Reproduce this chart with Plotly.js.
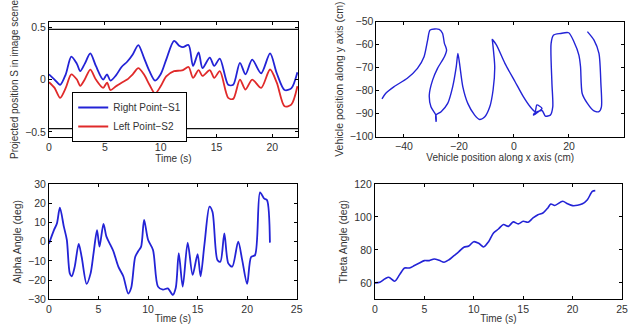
<!DOCTYPE html>
<html>
<head>
<meta charset="utf-8">
<script src="https://cdn.plot.ly/plotly-3.0.1.min.js"></script>
<style>html,body{margin:0;padding:0;background:#fff;}#chart{width:628px;height:324px;}</style>
</head>
<body>
<div id="chart"></div>
<script>
// ---- Top-left: projected position S ----
const timeS = [0, 0.5, 1.0, 1.5, 2.0, 2.5, 2.8, 3.2, 3.7, 4.2, 4.85, 5.2, 5.5, 6.0, 6.5, 7.0, 7.5, 8.0, 8.5, 9.0, 9.5, 10.0, 10.5, 11.2, 11.7, 12.0, 12.5, 12.9, 13.4, 13.75, 14.4, 14.8, 15.3, 16.05, 16.5, 17.1, 17.6, 18.2, 19.0, 19.8, 20.4, 21.1, 21.7, 22.25];
const rightS1 = [0.05, 0.0, -0.05, 0.05, 0.22, 0.15, 0.08, 0.15, 0.25, 0.13, 0.0, 0.05, -0.01, 0.04, 0.12, 0.17, 0.24, 0.33, 0.21, 0.08, -0.01, 0.05, 0.19, 0.37, 0.32, 0.31, 0.33, 0.13, 0.26, 0.11, 0.21, 0.13, 0.20, -0.05, -0.05, 0.16, 0.05, 0.19, 0.06, 0.25, 0.06, -0.10, -0.085, 0.07];
const leftS2 = [-0.025, -0.08, -0.175, -0.08, 0.05, 0.0, -0.06, 0.0, 0.095, 0.0, -0.08, -0.03, -0.10, -0.065, -0.03, 0.0, 0.05, 0.11, 0.05, -0.05, -0.135, -0.065, 0.03, 0.08, 0.085, 0.09, 0.12, 0.016, 0.09, 0.035, 0.09, 0.016, 0.08, -0.175, -0.185, 0.0, -0.096, 0.0, -0.08, 0.096, -0.03, -0.256, -0.24, -0.064];
const boundT = [0, 22.3];
const upperBound = [0.48, 0.48];
const lowerBound = [-0.47, -0.47];

// ---- Top-right: vehicle trajectory ----
const vehX = [-48, -46.7, -43.7, -38.8, -35.1, -32.7, -31.4, -30.5, -27.2, -26, -25.3, -24.5, -25.3, -27.8, -29.6, -30.8, -30.2, -28.4, -28.3, -28.4, -26.5, -24.1, -22.3, -21, -20.4, -19.8, -18.6, -16.8, -14.3, -12.5, -10.6, -8.8, -7.6, -7, -7.8, -7.9, -6.4, -3.3, 0.4, 3.4, 5.9, 7.7, 8.3, 10.2, 8.9, 7.1, 7.4, 10.2, 11.4, 13.2, 14.1, 13.8, 13.5, 14.4, 16.9, 19.9, 21.8, 23.6, 24.2, 24.8, 26.7, 29.1, 30.9, 31.8, 31.6, 30.9, 29.1, 26.7];
const vehY = [-83.5, -81.2, -78.3, -74.6, -70.3, -65.2, -58, -53.6, -53.3, -55, -59.4, -62.3, -65.2, -70.3, -75.4, -81.9, -87, -90.6, -93.5, -90.6, -89.1, -85.5, -78.3, -69.6, -63.8, -68.1, -78.3, -85.5, -90.6, -92.5, -91.3, -87, -79.7, -69.6, -58.7, -57.7, -60.1, -68.1, -76.1, -82.6, -87, -89.1, -86.2, -87.7, -89.1, -90.6, -89.8, -88.6, -91, -90.6, -87, -76.8, -59.4, -55.8, -55.1, -54.8, -58.7, -64.5, -69.6, -81.2, -85.5, -88.8, -89.1, -87, -76.8, -63.8, -58, -54.3];

// ---- Bottom-left: alpha angle ----
const timeA = [0, 0.5, 0.8, 1.1, 1.5, 1.8, 2.1, 2.3, 2.6, 3.0, 3.3, 3.8, 4.2, 4.5, 4.85, 5.1, 5.5, 5.8, 6.2, 6.5, 7.0, 7.5, 8.0, 8.3, 8.7, 9.0, 9.3, 9.6, 10.0, 10.5, 11.0, 11.5, 12.0, 12.5, 12.8, 13.1, 13.5, 14.0, 14.5, 15.0, 15.3, 15.7, 16.2, 16.5, 17.0, 17.3, 17.7, 18.1, 18.5, 19.1, 19.5, 20.0, 20.4, 20.8, 21.3, 21.7, 22.0, 22.3];
const alphaDeg = [-1, 6, 9.5, 17.7, 7.8, 1, -16.5, -18, -13, -1.2, -8, -22, -16.5, -6, 6, -2.6, 9.2, 2.6, -1.7, -5, -13, -18, -27, -24, -8, -5, -2.6, 11.3, 1, -4.3, -23.4, -25, -24.3, -27.7, -24, -6, -23.4, -0.5, -17.3, -6.5, -18, -1, 18.2, 15.6, -9.5, -10.4, 4.3, -11.3, -13, 0, -9.5, -22, -8, -7, 25.7, 22.5, 21.7, -0.5];

// ---- Bottom-right: theta angle ----
const timeT = [0, 0.5, 1.0, 1.4, 2.0, 2.5, 3.0, 3.5, 4.0, 4.5, 5.0, 5.5, 6.0, 6.5, 7.0, 7.5, 8.0, 8.5, 9.0, 9.5, 10.0, 10.5, 11.0, 11.5, 12.0, 12.5, 13.0, 13.5, 14.0, 14.5, 15.0, 15.5, 16.0, 16.5, 17.0, 17.5, 17.8, 18.2, 19.0, 19.5, 20.0, 20.5, 21.0, 21.5, 22.0, 22.3];
const thetaDeg = [60, 60.4, 62.4, 63.4, 61, 65, 69, 69, 70.5, 72, 73.5, 73.5, 74.5, 73.7, 72.5, 74, 76.5, 79, 81.6, 82.4, 85, 84, 81.8, 85, 90.3, 92.7, 95.4, 94.3, 97, 95.8, 97.4, 96.8, 99.4, 101.4, 102.4, 105.5, 107.9, 107, 109.5, 108, 106.9, 107.1, 108, 110.5, 115.5, 116];

const BLUE = '#2323d6';
const RED = '#e02a2a';
const FONT = 'Liberation Sans, Arial, sans-serif';

const traces = [
  {x: timeS, y: rightS1, name: 'Right Point\u2212S1', mode: 'lines', line: {color: BLUE, width: 1.8, shape: 'spline', smoothing: 0.8}, xaxis: 'x', yaxis: 'y'},
  {x: timeS, y: leftS2, name: 'Left Point\u2212S2', mode: 'lines', line: {color: RED, width: 1.8, shape: 'spline', smoothing: 0.8}, xaxis: 'x', yaxis: 'y'},
  {x: boundT, y: upperBound, mode: 'lines', showlegend: false, line: {color: '#111', width: 1.2}, xaxis: 'x', yaxis: 'y', hoverinfo: 'skip'},
  {x: boundT, y: lowerBound, mode: 'lines', showlegend: false, line: {color: '#111', width: 1.2}, xaxis: 'x', yaxis: 'y', hoverinfo: 'skip'},
  {x: vehX, y: vehY, mode: 'lines', showlegend: false, line: {color: BLUE, width: 1.4, shape: 'spline', smoothing: 0.7}, xaxis: 'x2', yaxis: 'y2'},
  {x: timeA, y: alphaDeg, mode: 'lines', showlegend: false, line: {color: BLUE, width: 1.8, shape: 'spline', smoothing: 0.8}, xaxis: 'x3', yaxis: 'y3'},
  {x: timeT, y: thetaDeg, mode: 'lines', showlegend: false, line: {color: BLUE, width: 1.6, shape: 'spline', smoothing: 0.8}, xaxis: 'x4', yaxis: 'y4'}
];

function ax(extra) {
  return Object.assign({
    showline: true, linecolor: '#000', linewidth: 1, mirror: 'ticks',
    ticks: 'inside', ticklen: 3, tickcolor: '#000', tickwidth: 1,
    showgrid: false, zeroline: false, automargin: false,
    tickfont: {family: FONT, size: 10.5, color: '#333'}
  }, extra);
}
function ttl(text, standoff, size) {
  return {text: text, font: {family: FONT, size: size || 10, color: '#333'}, standoff: standoff};
}

const layout = {
  width: 628, height: 324,
  margin: {l: 0, r: 0, t: 0, b: 0},
  paper_bgcolor: '#fff', plot_bgcolor: '#fff',
  showlegend: true,
  legend: {x: 0.115, y: 0.716, xanchor: 'left', yanchor: 'top', bgcolor: '#fff', bordercolor: '#000', borderwidth: 1,
           font: {family: FONT, size: 10, color: '#333'}, tracegroupgap: 0, itemwidth: 30},
  xaxis: ax({domain: [0.078, 0.4745], range: [0, 22.3], tickvals: [0, 5, 10, 15, 20], anchor: 'y', title: ttl('Time (s)', 2)}),
  yaxis: ax({domain: [0.577, 0.932], range: [-0.55, 0.55], tickvals: [-0.5, 0, 0.5], ticktext: ['\u22120.5', '0', '0.5'], anchor: 'x', title: ttl('Projected position S in image scene', 4, 10)}),
  xaxis2: ax({domain: [0.5995, 0.9936], range: [-50, 40], tickvals: [-40, -20, 0, 20, 40], anchor: 'y2', title: ttl('Vehicle position along x axis (cm)', 2)}),
  yaxis2: ax({domain: [0.578, 0.933], range: [-100, -50], tickvals: [-100, -90, -80, -70, -60, -50], anchor: 'x2', title: ttl('Vehicle position along y axis (cm)', 4, 10.5)}),
  xaxis3: ax({domain: [0.078, 0.4724], range: [0, 25], tickvals: [0, 5, 10, 15, 20, 25], anchor: 'y3', title: ttl('Time (s)', 2)}),
  yaxis3: ax({domain: [0.0762, 0.432], range: [-30, 30], tickvals: [-30, -20, -10, 0, 10, 20, 30], anchor: 'x3', title: ttl('Alpha Angle (deg)', 4, 10.5)}),
  xaxis4: ax({domain: [0.597, 0.9904], range: [0, 25], tickvals: [0, 5, 10, 15, 20, 25], anchor: 'y4', title: ttl('Time (s)', 2)}),
  yaxis4: ax({domain: [0.0762, 0.432], range: [50, 120], tickvals: [60, 80, 100, 120], anchor: 'x4', title: ttl('Theta Angle (deg)', 4, 10.5)})
};

Plotly.newPlot('chart', traces, layout, {staticPlot: true, displayModeBar: false});
</script>
</body>
</html>
